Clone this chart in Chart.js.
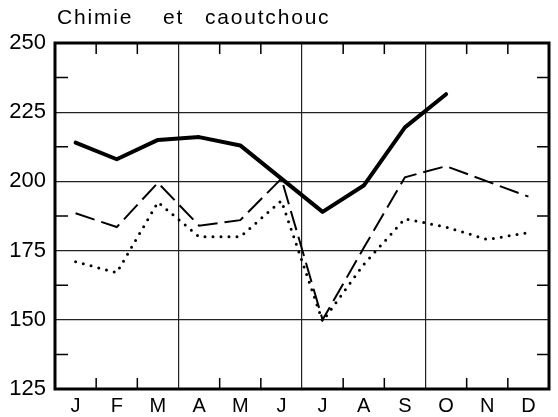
<!DOCTYPE html>
<html>
<head>
<meta charset="utf-8">
<script src="https://cdn.jsdelivr.net/npm/chart.js@4.4.1/dist/chart.umd.min.js"></script>
<style>
  body { margin: 0; background: #fff; }
  #wrap { width: 558px; height: 417px; position: relative; }
</style>
</head>
<body>
<div id="wrap"><canvas id="chimieChart"></canvas></div>
<script>
// months and the three curves
const months = ["J", "F", "M", "A", "M", "J", "J", "A", "S", "O", "N", "D"];
const solidLine = [214, 208, 215, 216, 213, 201, 189, 198.5, 219.5, 231.5, null, null];
const dashedLine = [188.5, 183.5, 199.5, 184, 186, 201, 150, 176, 201.5, 205.5, 200, 194.5];
const dottedLine = [171, 167, 192.5, 180, 180, 193, 149.5, 170, 186.5, 183.5, 179, 181.5];
const yTicks = [125, 150, 175, 200, 225, 250];
const yMinor = [137.5, 162.5, 187.5, 212.5, 237.5];
const titleWords = ["Chimie", "et", "caoutchouc"];
const titleX = [57, 163, 205];

const labelFont = "'Liberation Sans', Arial, sans-serif";

// frame, inner ticks and title
const framePlugin = {
    id: "frame",
    afterDraw(chart) {
        const ctx = chart.ctx;
        const area = chart.chartArea;
        const x = chart.scales.x;
        const y = chart.scales.y;
        ctx.save();
        ctx.strokeStyle = "#000";

        // short inward ticks on top and bottom at month boundaries
        ctx.lineWidth = 1.5;
        for (let i = 1; i < months.length; i++) {
            if (i % 3 === 0) continue;
            let px = (x.getPixelForValue(i - 1) + x.getPixelForValue(i)) / 2;
            ctx.beginPath();
            ctx.moveTo(px, area.top);
            ctx.lineTo(px, area.top + 11);
            ctx.moveTo(px, area.bottom);
            ctx.lineTo(px, area.bottom - 11);
            ctx.stroke();
        }
        // minor ticks left and right
        yMinor.forEach(v => {
            let py = y.getPixelForValue(v);
            ctx.beginPath();
            ctx.moveTo(area.left, py);
            ctx.lineTo(area.left + 13, py);
            ctx.moveTo(area.right, py);
            ctx.lineTo(area.right - 12, py);
            ctx.stroke();
        });

        // heavy frame
        ctx.lineWidth = 3;
        ctx.strokeRect(area.left, area.top, area.right - area.left, area.bottom - area.top);

        // title, widely spaced
        ctx.fillStyle = "#000";
        ctx.font = "21px " + labelFont;
        ctx.textBaseline = "alphabetic";
        ctx.textAlign = "left";
        ctx.letterSpacing = "1.8px";
        titleWords.forEach((w, i) => ctx.fillText(w, titleX[i], 24));
        ctx.restore();
    }
};

let ctx = document.getElementById("chimieChart").getContext("2d");
new Chart(ctx, {
    type: "line",
    data: {
        labels: months,
        datasets: [
            {
                label: "solid",
                data: solidLine,
                borderColor: "#000",
                borderWidth: 4,
                borderCapStyle: "round",
                borderJoinStyle: "round",
                pointRadius: 0,
                fill: false,
                tension: 0
            },
            {
                label: "dashed",
                data: dashedLine,
                borderColor: "#000",
                borderWidth: 2,
                borderDash: [20, 7],
                pointRadius: 0,
                fill: false,
                tension: 0
            },
            {
                label: "dotted",
                data: dottedLine,
                borderColor: "#000",
                borderWidth: 3,
                borderDash: [0, 8],
                borderCapStyle: "round",
                pointRadius: 0,
                fill: false,
                tension: 0
            }
        ]
    },
    options: {
        responsive: true,
        maintainAspectRatio: false,
        animation: false,
        layout: {
            padding: { top: 43, right: 9, left: 0, bottom: 0 }
        },
        plugins: {
            legend: { display: false },
            tooltip: { enabled: false }
        },
        scales: {
            x: {
                offset: true,
                afterFit: s => { s.height = 28; },
                border: { display: false },
                grid: {
                    offset: true,
                    drawTicks: false,
                    lineWidth: 1.2,
                    color: c => (c.index % 3 === 0 && c.index > 0 && c.index < 12) ? "#222" : "rgba(0,0,0,0)"
                },
                ticks: {
                    color: "#000",
                    padding: 5,
                    maxRotation: 0,
                    autoSkip: false,
                    font: { family: labelFont, size: 20 }
                }
            },
            y: {
                min: 125,
                max: 250,
                afterFit: s => { s.width = 55; },
                afterBuildTicks: s => { s.ticks = yTicks.map(v => ({ value: v })); },
                border: { display: false },
                grid: {
                    drawTicks: false,
                    lineWidth: 1.2,
                    color: "#222"
                },
                ticks: {
                    color: "#000",
                    padding: 9,
                    font: { family: labelFont, size: 22 }
                }
            }
        }
    },
    plugins: [framePlugin]
});
</script>
</body>
</html>
